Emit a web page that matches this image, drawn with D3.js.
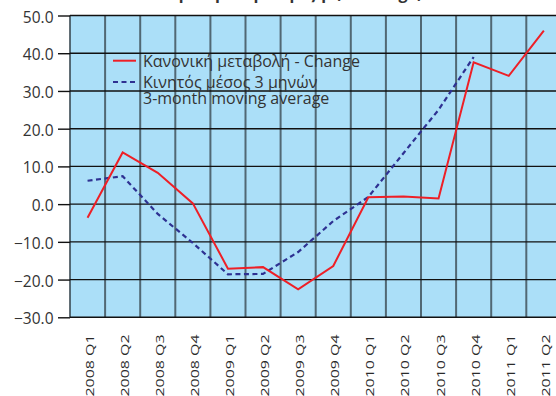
<!DOCTYPE html>
<html><head><meta charset="utf-8">
<script src="https://cdn.jsdelivr.net/npm/d3@7"></script>
<style>body{margin:0;background:#fff} svg{display:block}</style>
</head><body><svg id="c" width="556" height="396"></svg>
<script>
const categories = ["2008 Q1","2008 Q2","2008 Q3","2008 Q4","2009 Q1","2009 Q2","2009 Q3","2009 Q4","2010 Q1","2010 Q2","2010 Q3","2010 Q4","2011 Q1","2011 Q2"];
const changeValues = [-3.6,13.7,8.3,0.2,-17.1,-16.7,-22.6,-16.4,1.8,2.0,1.5,37.6,34.0,46.0];
const movingAvgValues = [6.2,7.4,-2.6,-10.3,-18.6,-18.5,-12.7,-4.5,1.9,13.5,25.0,39.0];
const yTicks = [50,40,30,20,10,0,-10,-20,-30];
const changeLabel = "Κανονική μεταβολή - Change";
const movingAvgLabelLines = ["Κινητός μέσος 3 μηνών","3-month moving average"];
const titleText = "Ετήσια μεταβολή τζίρ (% change)";

const svg = d3.select("#c");
const plotLeft = 70, bandStep = 35.1, plotTop = 15.5, plotBottom = 317.3;
const x = d3.scaleBand().domain(categories).range([plotLeft, plotLeft + bandStep*categories.length]).padding(0);
const y = d3.scaleLinear().domain([-30,50]).range([plotBottom, plotTop]);
const font = "'Open Sans', 'DejaVu Sans', sans-serif";

// title (cut off at top like the reference)
svg.append("text").attr("x", 289).attr("y", -0.8).attr("text-anchor","middle")
  .attr("font-family", font).attr("font-weight","bold").attr("font-size",16).attr("fill","#333")
  .text(titleText);

// plot background
svg.append("rect").attr("x", plotLeft).attr("y", plotTop).attr("width", x.range()[1]-plotLeft).attr("height", plotBottom-plotTop)
  .attr("fill", "#abdff8");

// vertical grid lines at band boundaries
const bounds = d3.range(categories.length+1).map(i => plotLeft + x.step()*i);
svg.append("g").selectAll("line").data(bounds).join("line")
  .attr("x1", d=>d).attr("x2", d=>d).attr("y1", plotTop).attr("y2", plotBottom)
  .attr("stroke", "#3b4a52").attr("stroke-opacity",0.8).attr("stroke-width", 2);

// horizontal grid lines
svg.append("g").selectAll("line").data(yTicks).join("line")
  .attr("x1", plotLeft).attr("x2", 556).attr("y1", d=>y(d)).attr("y2", d=>y(d))
  .attr("stroke", "#111").attr("stroke-width", 1.4);

// y axis
const ya = svg.append("g").attr("transform", `translate(${plotLeft},0)`)
  .call(d3.axisLeft(y).tickValues(yTicks).tickFormat(d3.format(".1f")).tickSize(12).tickPadding(4.5));
ya.select(".domain").remove();
ya.selectAll(".tick line").attr("stroke","#111").attr("stroke-width",1.4);
ya.selectAll(".tick text").attr("font-family", font).attr("font-size", 15.5).attr("fill","#333").attr("dy","0.42em");

// x axis labels
const xa = svg.append("g").attr("transform", `translate(0,${plotBottom})`)
  .call(d3.axisBottom(x).tickSize(0));
xa.select(".domain").remove();
xa.selectAll(".tick text").attr("font-family", font).attr("font-size", 16).attr("fill","#2a2a2a")
  .attr("text-anchor","end").attr("x",0).attr("y",0).attr("dy",0)
  .attr("transform","translate(6,17) rotate(-90) scale(1,0.7)");

// lines
const lineGen = d3.line().x((d,i)=>x(categories[i]) + x.bandwidth()/2).y(d=>y(d));
svg.append("path").datum(movingAvgValues).attr("d", lineGen).attr("fill","none")
  .attr("stroke","#2e3192").attr("stroke-width",2.2).attr("stroke-dasharray","5,3.5");
svg.append("path").datum(changeValues).attr("d", lineGen).attr("fill","none")
  .attr("stroke","#ee1f26").attr("stroke-width",2);

// legend
const lg = svg.append("g");
lg.append("line").attr("x1",113).attr("x2",136).attr("y1",60.7).attr("y2",60.7).attr("stroke","#ee1f26").attr("stroke-width",2);
lg.append("line").attr("x1",113).attr("x2",136).attr("y1",82).attr("y2",82).attr("stroke","#2e3192").attr("stroke-width",2.2).attr("stroke-dasharray","5,3.5");
lg.append("text").attr("x",143).attr("y",67)
  .attr("font-family", font).attr("font-size",16).attr("fill","#333").text(changeLabel);
const t2 = lg.append("text").attr("x",143).attr("y",88.3)
  .attr("font-family", font).attr("font-size",16).attr("fill","#333");
t2.selectAll("tspan").data(movingAvgLabelLines).join("tspan")
  .attr("x",143).attr("dy",(d,i)=> i ? 15.2 : 0).text(d=>d);
</script></body></html>
